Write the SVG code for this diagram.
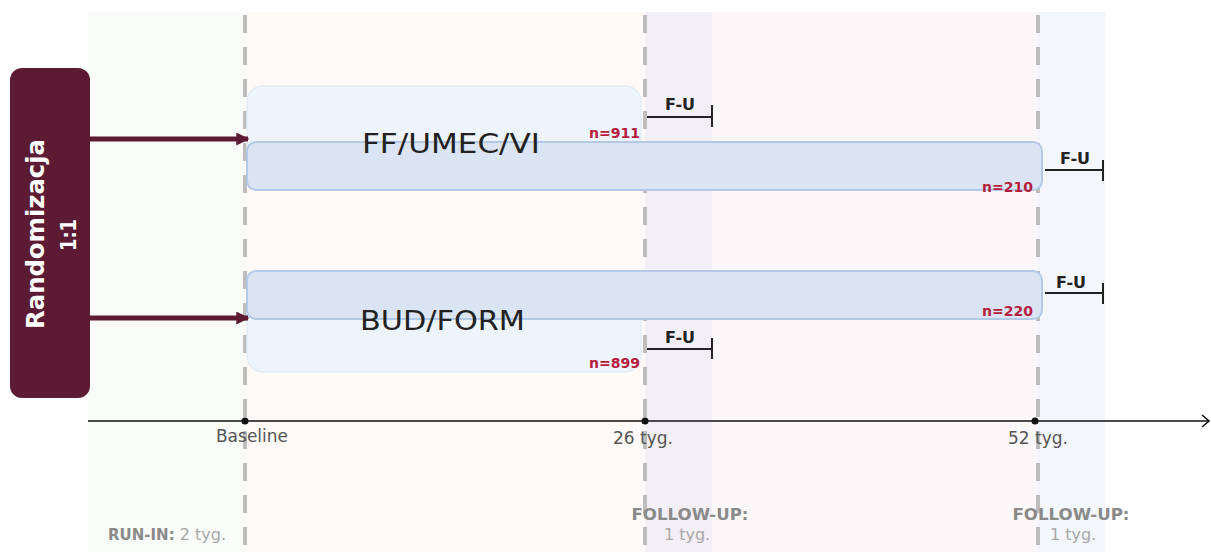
<svg xmlns="http://www.w3.org/2000/svg" width="1211" height="552" viewBox="0 0 1211 552">
  <defs>
    <style>
      .phase-line { stroke: #bdbdbd; stroke-width: 4; stroke-dasharray: 18 14; fill: none; }
      .arm-light { fill: #eef4fb; stroke: #e4ebf5; stroke-width: 1.5; }
      .arm-main { fill: #dae4f3; stroke: #b3c9e7; stroke-width: 2; }
      .arm-name { font-family: "Century Gothic", "DejaVu Sans", "Liberation Sans", sans-serif; font-size: 26px; fill: #222; }
      .count { font-family: "DejaVu Sans", "Liberation Sans", sans-serif; font-weight: bold; font-size: 14px; fill: #b5203f; }
      .fu { font-family: "DejaVu Sans", "Liberation Sans", sans-serif; font-weight: bold; font-size: 16px; fill: #222; }
      .fu-bar { stroke: #222; stroke-width: 2; fill: none; }
      .axis-label { font-family: "DejaVu Sans", "Liberation Sans", sans-serif; font-size: 17px; fill: #555; }
      .phase-bold { font-family: "DejaVu Sans", "Liberation Sans", sans-serif; font-weight: bold; font-size: 15px; fill: #8a8a8a; }
      .phase-plain { font-family: "DejaVu Sans", "Liberation Sans", sans-serif; font-size: 16px; fill: #a8a8a8; }
      .rand-arrow { stroke: #5c1a33; stroke-width: 5; fill: none; }
    </style>
    <marker id="rand-head" viewBox="0 0 10 10" refX="9" refY="5" markerWidth="2.6" markerHeight="2.6" orient="auto">
      <path d="M0,0 L10,5 L0,10 Z" fill="#5c1a33"/>
    </marker>
  </defs>

  <rect width="1211" height="552" fill="#ffffff"/>

  <!-- study phase bands -->
  <g id="phases">
    <rect x="88" y="12" width="157" height="540" fill="#f8fbf8"/>
    <rect x="245" y="12" width="400" height="540" fill="#fffaf7"/>
    <rect x="645" y="12" width="67" height="540" fill="#f3eff6"/>
    <rect x="712" y="12" width="326" height="540" fill="#fcf8f9"/>
    <rect x="1038" y="12" width="67" height="540" fill="#f3f6fb"/>
    <line class="phase-line" x1="245" y1="15" x2="245" y2="552"/>
    <line class="phase-line" x1="645" y1="15" x2="645" y2="552"/>
    <line class="phase-line" x1="1038" y1="15" x2="1038" y2="552"/>
  </g>

  <!-- randomisation block -->
  <g id="randomization">
    <rect x="10" y="68" width="80" height="330" rx="12" fill="#5c1a33"/>
    <text transform="translate(44,234) rotate(-90)" text-anchor="middle" font-family="'Century Gothic', 'DejaVu Sans', sans-serif" font-weight="bold" font-size="24" fill="#ffffff" textLength="190" lengthAdjust="spacingAndGlyphs">Randomizacja</text>
    <text transform="translate(76,235) rotate(-90)" text-anchor="middle" font-family="'Century Gothic', 'DejaVu Sans', sans-serif" font-weight="bold" font-size="22" fill="#ffffff" textLength="32" lengthAdjust="spacingAndGlyphs">1:1</text>
  </g>

  <!-- arm 1 -->
  <g id="arm-ff-umec-vi">
    <rect class="arm-light" x="247" y="86" width="394" height="104" rx="16"/>
    <rect class="arm-main" x="247" y="142" width="795" height="48" rx="9"/>
    <text class="arm-name" x="362" y="153" textLength="178" lengthAdjust="spacingAndGlyphs">FF/UMEC/VI</text>
    <text class="count" x="640" y="138" text-anchor="end">n=911</text>
    <text class="count" x="1033" y="192" text-anchor="end">n=210</text>
  </g>

  <!-- arm 2 -->
  <g id="arm-bud-form">
    <rect class="arm-light" x="247" y="271" width="394" height="101" rx="16"/>
    <rect class="arm-main" x="247" y="271" width="795" height="48" rx="9"/>
    <text class="arm-name" x="360" y="330" textLength="165" lengthAdjust="spacingAndGlyphs">BUD/FORM</text>
    <text class="count" x="1033" y="316" text-anchor="end">n=220</text>
    <text class="count" x="640" y="368" text-anchor="end">n=899</text>
  </g>

  <!-- follow-up markers -->
  <g id="follow-up-markers">
    <text class="fu" x="680" y="110" text-anchor="middle">F-U</text>
    <path class="fu-bar" d="M647,117 H712 M712,105 V127"/>
    <text class="fu" x="1075" y="164" text-anchor="middle">F-U</text>
    <path class="fu-bar" d="M1045,170 H1103 M1103,160 V181"/>
    <text class="fu" x="1071" y="288" text-anchor="middle">F-U</text>
    <path class="fu-bar" d="M1045,293 H1103 M1103,283 V304"/>
    <text class="fu" x="680" y="343" text-anchor="middle">F-U</text>
    <path class="fu-bar" d="M647,349 H712 M712,338 V359"/>
  </g>

  <!-- connectors -->
  <g id="connectors">
    <line class="rand-arrow" x1="90" y1="139" x2="248" y2="139" marker-end="url(#rand-head)"/>
    <line class="rand-arrow" x1="90" y1="318" x2="248" y2="318" marker-end="url(#rand-head)"/>
  </g>

  <!-- time axis -->
  <g id="timeline">
    <line x1="88" y1="421" x2="1209" y2="421" stroke="#111" stroke-width="1.6"/>
    <path d="M1202,415 L1209,421 L1202,427" stroke="#111" stroke-width="1.6" fill="none"/>
    <circle cx="245" cy="421" r="3.5" fill="#111"/>
    <circle cx="645" cy="421" r="3.5" fill="#111"/>
    <circle cx="1035" cy="421" r="3.5" fill="#111"/>
    <text class="axis-label" x="252" y="442" text-anchor="middle">Baseline</text>
    <text class="axis-label" x="643" y="444" text-anchor="middle">26 tyg.</text>
    <text class="axis-label" x="1038" y="444" text-anchor="middle">52 tyg.</text>
  </g>

  <!-- phase labels -->
  <g id="phase-labels">
    <text x="108" y="540"><tspan class="phase-bold">RUN-IN:</tspan><tspan class="phase-plain"> 2 tyg.</tspan></text>
    <text class="phase-bold" x="690" y="520" text-anchor="middle" textLength="117" lengthAdjust="spacingAndGlyphs">FOLLOW-UP:</text>
    <text class="phase-plain" x="687" y="540" text-anchor="middle">1 tyg.</text>
    <text class="phase-bold" x="1071" y="520" text-anchor="middle" textLength="117" lengthAdjust="spacingAndGlyphs">FOLLOW-UP:</text>
    <text class="phase-plain" x="1073" y="540" text-anchor="middle">1 tyg.</text>
  </g>
</svg>
